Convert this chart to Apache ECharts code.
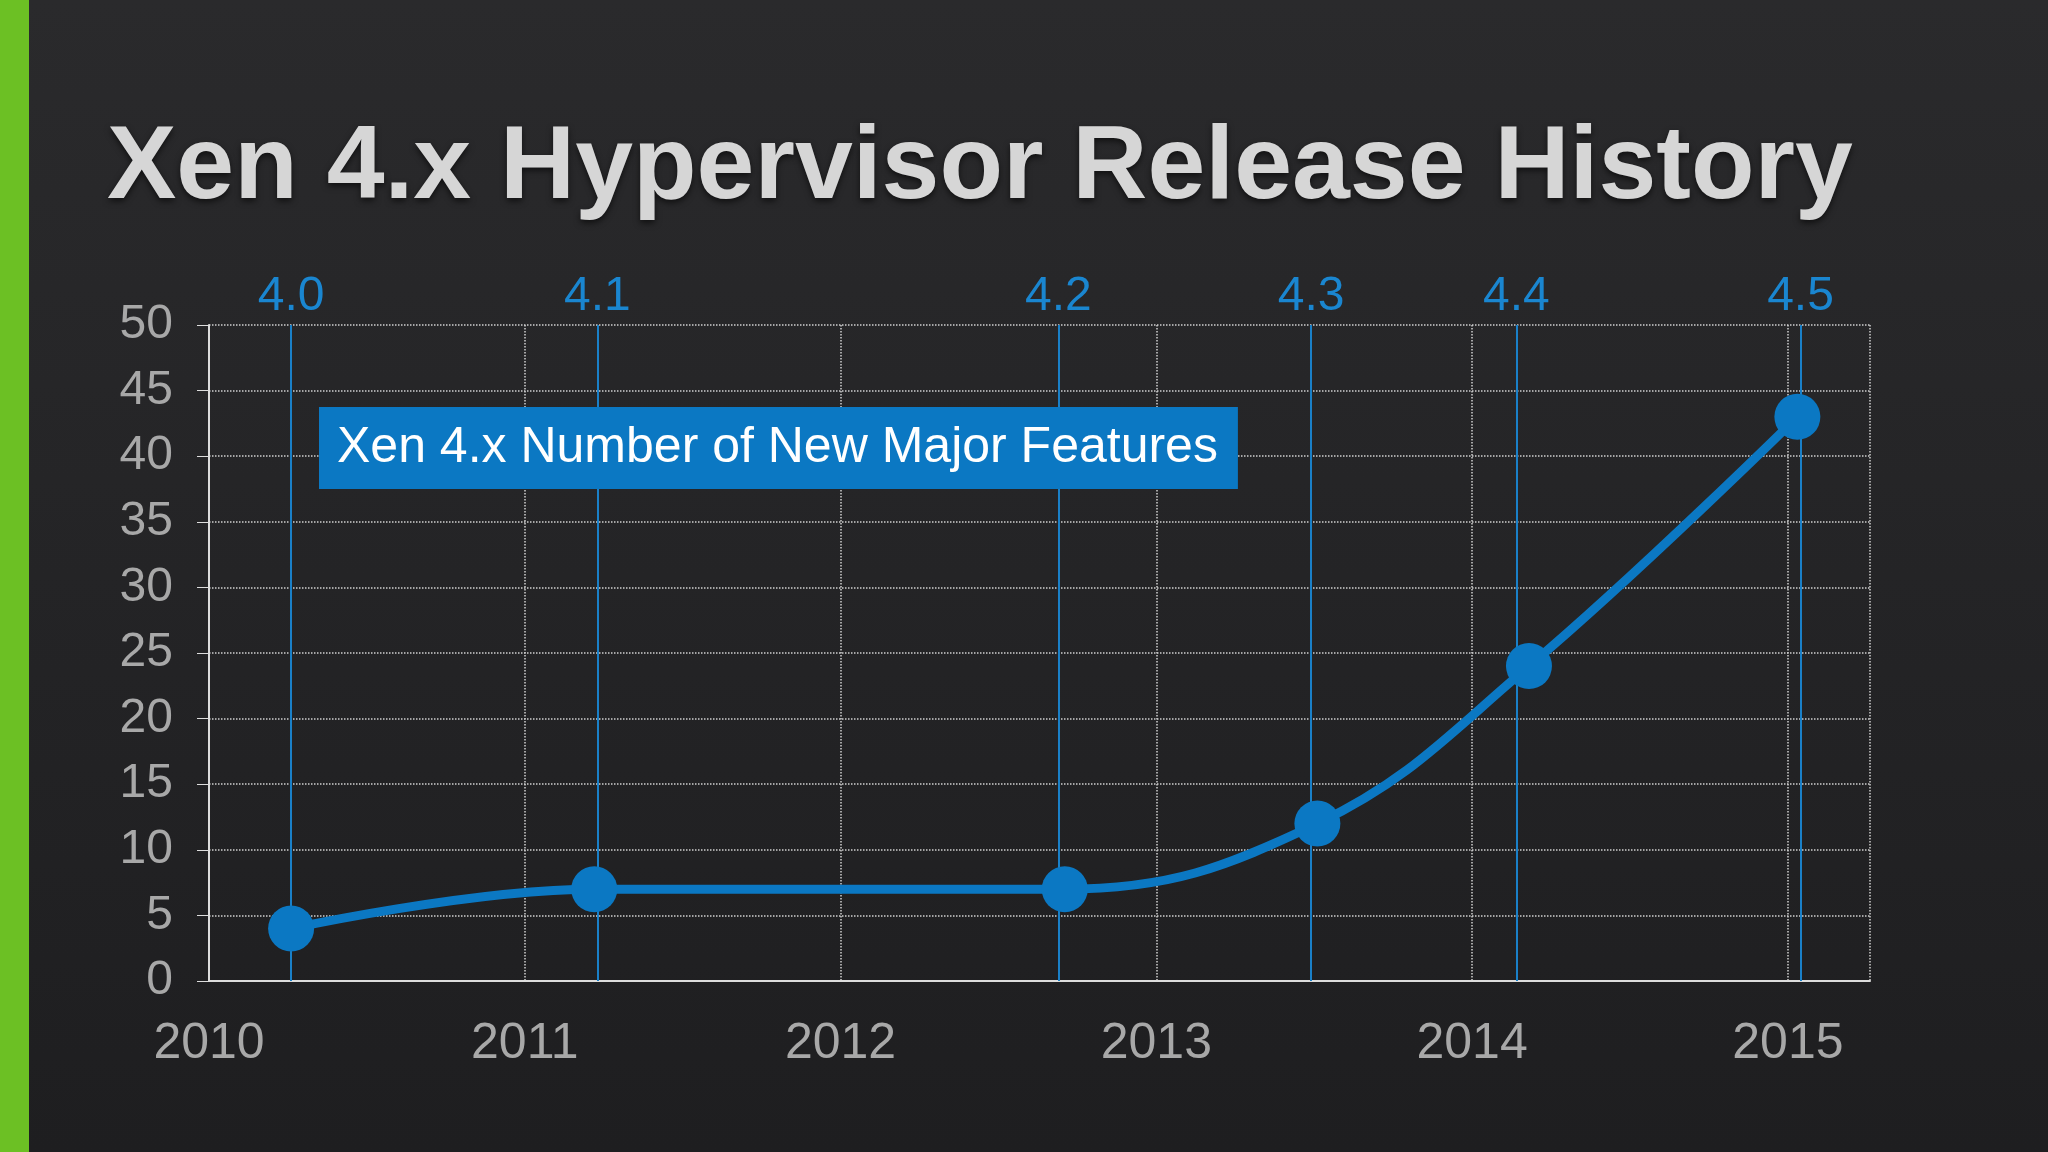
<!DOCTYPE html>
<html>
<head>
<meta charset="utf-8">
<script src="https://cdn.jsdelivr.net/npm/echarts@6/dist/echarts.min.js"></script>
<style>
  html, body { margin: 0; padding: 0; background: #222224; }
  #chart { width: 2048px; height: 1152px; }
</style>
</head>
<body>
<div id="chart"></div>
<script>
// release points: x = year position, y = number of new major features
let releaseNames = ['4.0', '4.1', '4.2', '4.3', '4.4', '4.5'];
let pointX = [2010.26, 2011.22, 2012.71, 2013.51, 2014.18, 2015.03];
let features = [4, 7, 7, 12, 24, 43];
// vertical release markers (slightly offset from points in the original)
let markerX = [2010.26, 2011.23, 2012.69, 2013.49, 2014.14, 2015.04];
let yearTicks = [2010, 2011, 2012, 2013, 2014, 2015];

let chart = echarts.init(document.getElementById('chart'));

let gray = '#a8a8a8';

let option = {
    backgroundColor: {
        type: 'linear', x: 0, y: 0, x2: 0, y2: 1,
        colorStops: [{offset: 0, color: '#2a2a2c'}, {offset: 1, color: '#1e1e20'}]
    },
    title: [{
        text: 'Xen 4.x Hypervisor Release History',
        left: 102, top: 112,
        textStyle: {
            fontFamily: 'Liberation Sans', fontWeight: 'bold', fontSize: 104,
            color: '#d6d6d6',
            textShadowColor: 'rgba(0,0,0,0.6)', textShadowBlur: 6, textShadowOffsetY: 3
        }
    }, {
        text: 'Xen 4.x Number of New Major Features',
        left: 319, top: 407,
        backgroundColor: '#0b78c3',
        padding: [16, 20, 16, 18],
        textStyle: {fontFamily: 'Liberation Sans', fontWeight: 'normal', fontSize: 50, color: '#ffffff'}
    }],
    graphic: [{
        type: 'rect', left: 0, top: 0,
        shape: {width: 29, height: 1152},
        style: {fill: '#6cc024'}
    }],
    grid: {left: 209, right: 178, top: 325, bottom: 171},
    xAxis: {
        type: 'value', min: 2010, max: 2015.26, interval: 1,
        axisLine: {show: true, lineStyle: {color: '#dddddd', width: 2}},
        axisTick: {show: false},
        axisLabel: {
            color: gray, fontSize: 50, fontFamily: 'Liberation Sans', margin: 38,
            showMaxLabel: false,
            formatter: v => yearTicks.indexOf(Math.round(v)) >= 0 ? String(Math.round(v)) : ''
        },
        splitLine: {show: true, lineStyle: {color: '#cfcfcf', type: 'dotted', width: 1.5}}
    },
    yAxis: {
        type: 'value', min: 0, max: 50, interval: 5,
        axisLine: {show: true, lineStyle: {color: '#dddddd', width: 2}},
        axisTick: {show: true, length: 12, inside: false, lineStyle: {color: '#dddddd'}},
        axisLabel: {color: gray, fontSize: 48, fontFamily: 'Liberation Sans', margin: 36},
        splitLine: {show: true, lineStyle: {color: '#cfcfcf', type: 'dotted', width: 1.5}}
    },
    series: [{
        type: 'line',
        smooth: 0.4,
        data: pointX.map((x, i) => [x, features[i]]),
        lineStyle: {color: '#0b78c3', width: 9},
        itemStyle: {color: '#0b78c3'},
        symbol: 'circle', symbolSize: 46,
        z: 5,
        markLine: {
            silent: true, symbol: 'none',
            lineStyle: {color: '#1a80c8', type: 'solid', width: 2},
            label: {
                position: 'end', color: '#1a86d0', fontSize: 48,
                fontFamily: 'Liberation Sans', distance: 4,
                formatter: p => p.name
            },
            data: markerX.map((x, i) => ({name: releaseNames[i], xAxis: x}))
        }
    }]
};

chart.setOption(option);

window.onresize = function () {
    chart.resize();
};
</script>
</body>
</html>
